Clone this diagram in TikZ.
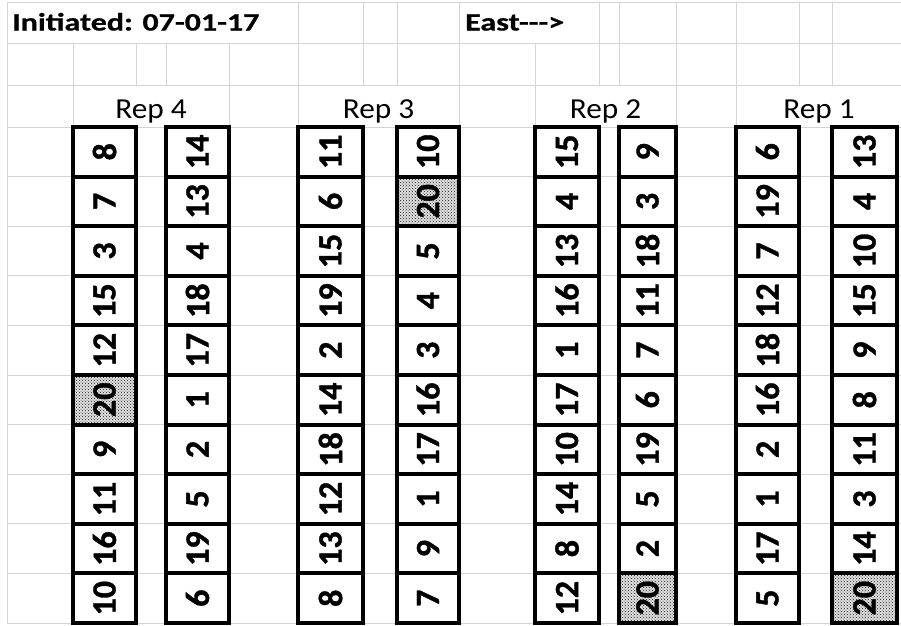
\documentclass[tikz,border=0pt]{standalone}
\usepackage{fontspec}
\setmainfont{Carlito}
\newfontfamily\plotfont{Carlito}[BoldFeatures={FakeBold=1}]
\newfontfamily\headfont{Carlito}[BoldFeatures={FakeBold=0.6}]
\usetikzlibrary{patterns}
\definecolor{gridgray}{RGB}{212,212,212}
\newcommand{\stretchx}[2]{\scalebox{#1}[1]{#2}}
\tikzset{
  gridline/.style={draw=gridgray,line width=1pt},
  plotcell/.style={rectangle,draw=black,line width=4pt,inner sep=0pt,rotate=90,minimum width=49.6pt,font=\plotfont\bfseries\fontsize{34}{34}\selectfont},
  checkcell/.style={plotcell,preaction={fill=black!12},pattern=crosshatch dots,pattern color=black!90},
  title/.style={anchor=base west,inner sep=0pt,font=\headfont\bfseries\fontsize{25}{25}\selectfont},
  rephead/.style={anchor=base,inner sep=0pt,font=\fontsize{29}{29}\selectfont}
}

\begin{document}
\begin{tikzpicture}[x=1pt,y=-1pt]
  \useasboundingbox (0,0) rectangle (901,625);
  % sheet grid
  \foreach \y in {2,43,85} \draw[gridline] (7,\y) -- (901,\y);
  \foreach \r in {0,...,10} \draw[gridline] (7,{127+49.6*\r}) -- (901,{127+49.6*\r});
  \draw[gridline] (7,2) -- (7,623);
  \foreach \x in {298,363,397,459,599,619,676,736,799,832} \draw[gridline] (\x,2) -- (\x,43);
  \foreach \x in {73,136,166,229,298,363,397,459,535,599,619,676,736,799,832} \draw[gridline] (\x,43) -- (\x,85);
  \foreach \x in {73,229,298,459,535,676,736} \draw[gridline] (\x,85) -- (\x,127);

  % headings
  \node[title] (started) at (12,30.5) {\stretchx{1.28}{Initiated: 07-01-17}};
  \node[title] (east) at (465,30.5) {\stretchx{1.28}{East-{}-{}->}};
  \node[rephead] (rep4) at (151,118) {\stretchx{1.08}{Rep 4}};
  \node[rephead] (rep3) at (378.5,118) {\stretchx{1.08}{Rep 3}};
  \node[rephead] (rep2) at (605.5,118) {\stretchx{1.08}{Rep 2}};
  \node[rephead] (rep1) at (819,118) {\stretchx{1.08}{Rep 1}};

  % plots, north to south
  \foreach \name/\xl/\xr/\vals in {
      r4a/73/136/{8,7,3,15,12,20,9,11,16,10},
      r4b/166/229/{14,13,4,18,17,1,2,5,19,6},
      r3a/298/363/{11,6,15,19,2,14,18,12,13,8},
      r3b/397/459/{10,20,5,4,3,16,17,1,9,7},
      r2a/535/599/{15,4,13,16,1,17,10,14,8,12},
      r2b/619/676/{9,3,18,11,7,6,19,5,2,20},
      r1a/736/799/{6,19,7,12,18,16,2,1,17,5},
      r1b/832/897/{13,4,10,15,9,8,11,3,14,20}}{
    \foreach \v [count=\i] in \vals {
      \def\cellstyle{plotcell}
      \ifnum\v=20 \def\cellstyle{checkcell}\fi
      \node[\cellstyle,minimum height={\xr-\xl}] (\name-\i)
        at ({(\xl+\xr)/2},{127+49.6*(\i-0.5)}) {\v};
    }
  }
\end{tikzpicture}
\end{document}
